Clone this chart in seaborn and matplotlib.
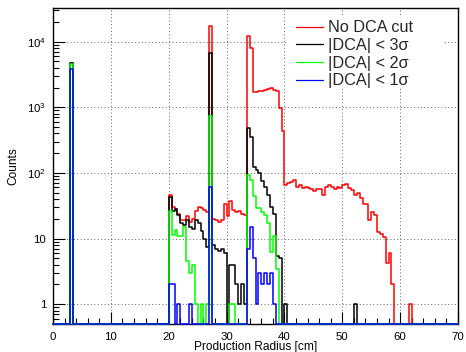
import numpy as np
import pandas as pd
import matplotlib
matplotlib.use("Agg")
import matplotlib.pyplot as plt
import seaborn as sns
from matplotlib.lines import Line2D
from matplotlib.patches import Rectangle
from matplotlib.ticker import MultipleLocator, LogLocator, NullFormatter

sns.set_theme(style="white")
plt.rcParams["font.family"] = ["Liberation Sans", "DejaVu Sans"]
plt.rcParams["mathtext.fontset"] = "custom"
plt.rcParams["mathtext.rm"] = "Liberation Sans"
plt.rcParams["mathtext.it"] = "Liberation Sans:italic"
plt.rcParams["mathtext.bf"] = "Liberation Sans:bold"

# ---------------- data (0.5 cm bins from 0 to 70 cm) ----------------
BIN_WIDTH = 0.5
X_MIN, X_MAX = 0, 70

series_labels = ["No DCA cut", "|DCA| < 3σ", "|DCA| < 2σ", "|DCA| < 1σ"]

red_counts = ([0] * 6 + [4750] + [0] * 33
              + [46, 30, 28, 24, 19, 19, 22, 18, 20, 26, 30, 29, 27, 25]
              + [17200]
              + [20, 19, 18, 19, 34, 22, 38, 27, 25, 26, 24, 23]
              + [12100, 7900]
              + [1700, 1700, 1750, 1800, 1830, 1900, 1950, 1850, 1800]
              + [960, 430]
              + [65, 70, 73, 78, 62, 65, 59, 62, 59, 56, 53, 56, 56, 46, 62, 65, 60, 56, 60, 58]
              + [65, 69, 58, 54, 46, 49, 41, 34, 34, 19, 25, 23, 12.7, 11.7, 10.7, 4.2, 6.1, 2.0]
              + [0] * 5 + [1] + [0] * 16)

black_counts = ([0] * 6 + [4700] + [0] * 33
                + [43, 26, 28, 23, 17, 16, 19, 15, 14, 19, 17, 13, 10, 7.5]
                + [6600]
                + [8, 7, 6.5, 7, 6]
                + [0]
                + [4, 4, 2, 1, 2, 1]
                + [480, 350]
                + [124, 110, 99, 76, 60, 46, 30, 24, 5.5, 5]
                + [0] + [1] + [0] * 23 + [1] + [0] * 35)

green_counts = ([0] * 6 + [4500] + [0] * 33
                + [26, 11.5, 13.5, 11, 11, 15, 4.5, 3, 4]
                + [1, 0, 1, 0, 1]
                + [740]
                + [0] * 6 + [1, 1] + [0] * 4
                + [93, 78]
                + [45, 29, 29, 25, 23, 17, 6.3, 11, 3.5]
                + [0] * 62)

blue_counts = ([0] * 6 + [3800] + [0] * 33
               + [2, 2, 0, 1, 0, 0, 0, 1, 0, 0, 0, 0, 0, 0]
               + [62]
               + [0] * 12
               + [7, 15]
               + [5, 1, 3, 2, 3, 2, 3, 1]
               + [0] * 63)

colors = ["#ff0000", "#000000", "#00ff00", "#0000ff"]

# ---------------- figure ----------------
W, H = 466, 352
fig = plt.figure(figsize=(W / 100, H / 100), dpi=100)
L, R, T, B = 53, 458, 8, 324
ax = fig.add_axes([L / W, 1 - B / H, (R - L) / W, (B - T) / H])

edges = np.arange(X_MIN, X_MAX + BIN_WIDTH / 2, BIN_WIDTH)
centers = (edges[:-1] + edges[1:]) / 2
YMIN, YMAX = 0.5, 3.25e4

for counts, col in zip([red_counts, black_counts, green_counts, blue_counts], colors):
    vals = np.asarray(counts, dtype=float)
    vals = np.where(vals > 0, vals, YMIN)  # empty bins drawn on the frame, as in ROOT
    df = pd.DataFrame({"radius": centers, "w": vals})
    sns.histplot(data=df, x="radius", weights="w", binwidth=BIN_WIDTH,
                 binrange=(X_MIN, X_MAX), element="step", fill=False,
                 color=col, linewidth=1.1, ax=ax, zorder=3, clip_on=False)

ax.set_yscale("log")
ax.set_xlim(X_MIN, X_MAX)
ax.set_ylim(YMIN, YMAX)

ax.xaxis.set_major_locator(MultipleLocator(10))
ax.xaxis.set_minor_locator(MultipleLocator(2))
ax.set_yticks([1, 10, 100, 1000, 10000])
ax.set_yticklabels(["1", "10", "$10^{2}$", "$10^{3}$", "$10^{4}$"])
ax.yaxis.set_minor_locator(LogLocator(base=10, subs=range(2, 10), numticks=20))
ax.yaxis.set_minor_formatter(NullFormatter())

ax.tick_params(which="both", direction="in", bottom=True, left=True, top=False, right=False,
               colors="black", labelsize=8.2, width=0.8)
ax.tick_params(which="major", length=8.5)
ax.tick_params(which="minor", length=4.3)
ax.tick_params(axis="x", which="major", pad=5.5)
ax.tick_params(axis="y", which="major", pad=5)

ax.grid(True, which="major", color="#666666", linestyle=(0, (1, 2.5)), linewidth=0.7)
for s in ax.spines.values():
    s.set_color("black")
    s.set_linewidth(1.0)

ax.set_xlabel("Production Radius [cm]", fontsize=8.6, color="black")
ax.set_ylabel("Counts", fontsize=8.6, color="black")
ax.xaxis.set_label_coords(0.5, -(341 - B) / (B - T))
ax.yaxis.set_label_coords(-(L - 19) / (R - L), 0.5)

# white legend background (covers the grid, as in the reference)
ax.add_patch(Rectangle((288 / W, 1 - 88 / H), (445 - 288) / W, (88 - 17) / H,
                       transform=fig.transFigure, facecolor="white", edgecolor="none",
                       zorder=1))

handles = [Line2D([], [], color=c, lw=0.9) for c in colors]
ax.legend(handles, series_labels, loc="upper left",
          bbox_to_anchor=(296 / W, 1 - 20.5 / H), bbox_transform=fig.transFigure,
          frameon=False, fontsize=11.7, handlelength=1.64, handletextpad=0.34,
          labelspacing=0.16, borderpad=0, borderaxespad=0)

fig.savefig("out.png", dpi=100)
